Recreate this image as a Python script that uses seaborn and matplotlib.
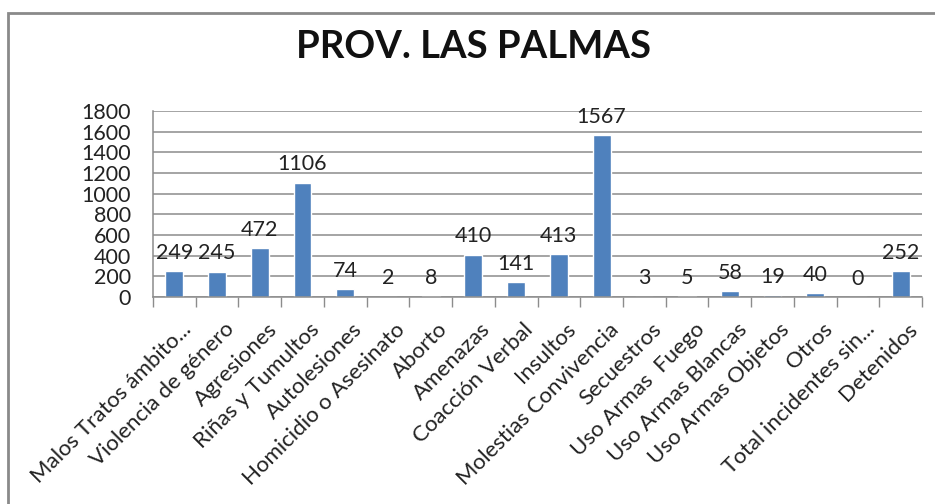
import matplotlib
matplotlib.use('Agg')
import matplotlib.pyplot as plt
import matplotlib.transforms as mtransforms
from matplotlib.patches import Rectangle
import numpy as np
import pandas as pd
import seaborn as sns

categories = ['Malos Tratos ámbito...', 'Violencia de género', 'Agresiones',
              'Riñas y Tumultos', 'Autolesiones', 'Homicidio o Asesinato',
              'Aborto', 'Amenazas', 'Coacción Verbal', 'Insultos',
              'Molestias Convivencia', 'Secuestros', 'Uso Armas  Fuego',
              'Uso Armas Blancas', 'Uso Armas Objetos', 'Otros',
              'Total incidentes sin...', 'Detenidos']
values = [249, 245, 472, 1106, 74, 2, 8, 410, 141, 413, 1567, 3, 5, 58, 19, 40, 0, 252]
y_ticks = list(range(0, 2000, 200))

sns.set_theme(style='white')
plt.rcParams['font.family'] = ['Lato', 'DejaVu Sans']

df = pd.DataFrame({'cat': categories, 'val': values})

fig = plt.figure(figsize=(9.35, 5.04), dpi=100)
# outer chart frame (cut by the image edge at right/bottom)
fig.patches.append(Rectangle((8 / 935, -0.1), 1.2, 1.1 - 13 / 504,
                             transform=fig.transFigure, fill=False,
                             edgecolor='#8a8a8a', linewidth=2))

ax = fig.add_axes([153 / 935, 1 - 297 / 504, (922 - 153) / 935, (297 - 111) / 504])
sns.barplot(data=df, x='cat', y='val', color='#4f81bd', saturation=1,
            width=0.42, ax=ax)

ax.set_ylim(0, 1800)
ax.set_xlim(-0.5, len(categories) - 0.5)
ax.set_yticks(y_ticks)
ax.set_yticklabels([str(t) for t in y_ticks], fontsize=15.5, color='#222222')
ax.yaxis.grid(True, color='#8c8c8c', linewidth=1.1)
ax.set_axisbelow(True)
ax.tick_params(axis='y', length=0, pad=16)

ax.set_xlabel('')
ax.set_ylabel('')
ax.set_xticks(range(len(categories)))
ax.set_xticklabels(categories, rotation=45, ha='right', rotation_mode='anchor',
                   fontsize=16, color='#222222')
ax.tick_params(axis='x', which='major', length=0, pad=16)
offset = mtransforms.ScaledTranslation(7 / 100, 0, fig.dpi_scale_trans)
for lbl in ax.get_xticklabels():
    lbl.set_transform(lbl.get_transform() + offset)
ax.set_xticks(np.arange(-0.5, len(categories)), minor=True)
ax.tick_params(axis='x', which='minor', length=7, width=1, color='#8c8c8c',
               direction='out', bottom=True)

for side in ['top', 'right']:
    ax.spines[side].set_visible(False)
for side in ['left', 'bottom']:
    ax.spines[side].set_color('#8c8c8c')
    ax.spines[side].set_linewidth(1.1)

ax.bar_label(ax.containers[0], labels=[str(v) for v in values], padding=6,
             fontsize=15.5, color='#222222')

fig.text(473 / 935, 1 - 47 / 504, 'PROV. LAS PALMAS', ha='center', va='center',
         fontsize=27.5, fontweight='bold', color='#111111')

fig.savefig('out.png', dpi=100)
